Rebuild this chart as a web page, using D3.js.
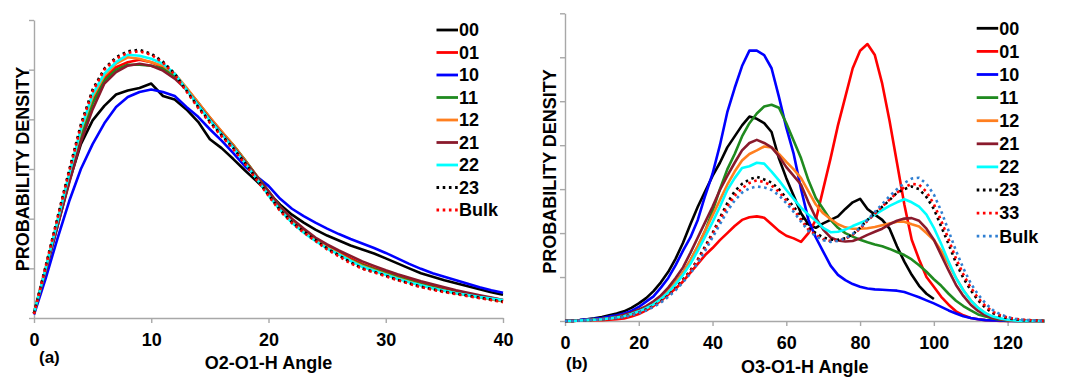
<!DOCTYPE html>
<html><head><meta charset="utf-8">
<script src="https://cdn.jsdelivr.net/npm/d3@7/dist/d3.min.js"></script>
<style>
body{margin:0;background:#fff}
svg{display:block}
text{font-family:"Liberation Sans",Arial,Helvetica,sans-serif;font-weight:bold;fill:#000}
</style>
</head><body><svg id="chart" width="1080" height="381"></svg>
<script>
// ---------- DATA ----------
const leftAngles=[0,1,2,3,4,5,6,7,8,9,10,11,12,13,14,15,16,17,18,19,20,21,22,23,24,25,26,27,28,29,30,31,32,33,34,35,36,37,38,39,40];
const leftXTicks=[0,10,20,30,40];
const leftYTicks=[0,1,2,3,4,5,6];
const leftNames=["00","01","10","11","12","21","22","23","Bulk"];
const left00=[0.1,0.95,1.85,2.75,3.5,3.98,4.27,4.5,4.58,4.63,4.72,4.47,4.4,4.2,3.95,3.6,3.42,3.2,2.97,2.75,2.52,2.28,2.08,1.92,1.78,1.66,1.56,1.46,1.38,1.3,1.2,1.1,1.0,0.9,0.83,0.76,0.7,0.64,0.58,0.52,0.47];
const left01=[0.1,1.0,1.93,2.85,3.72,4.38,4.82,5.05,5.15,5.2,5.15,5.05,4.88,4.62,4.33,4.03,3.75,3.47,3.17,2.86,2.55,2.23,1.98,1.78,1.6,1.45,1.32,1.2,1.09,1.0,0.92,0.84,0.77,0.7,0.64,0.58,0.53,0.48,0.44,0.4,0.36];
const left10=[0.07,0.8,1.6,2.35,3.0,3.5,3.92,4.25,4.45,4.55,4.6,4.55,4.47,4.25,4.05,3.8,3.57,3.32,3.05,2.85,2.66,2.4,2.2,2.05,1.92,1.8,1.69,1.59,1.5,1.41,1.31,1.2,1.09,0.99,0.9,0.83,0.76,0.69,0.62,0.56,0.51];
const left11=[0.1,0.98,1.9,2.8,3.66,4.32,4.78,5.0,5.1,5.1,5.08,5.02,4.88,4.62,4.33,4.03,3.75,3.48,3.18,2.86,2.55,2.24,1.98,1.77,1.58,1.42,1.29,1.17,1.07,0.98,0.9,0.82,0.75,0.68,0.62,0.56,0.51,0.46,0.42,0.38,0.34];
const left12=[0.1,1.0,1.95,2.88,3.78,4.45,4.88,5.12,5.25,5.22,5.15,5.08,4.92,4.64,4.34,4.04,3.76,3.48,3.17,2.85,2.52,2.2,1.96,1.76,1.58,1.42,1.29,1.16,1.05,0.96,0.88,0.8,0.73,0.66,0.6,0.55,0.5,0.46,0.42,0.38,0.35];
const left21=[0.1,0.95,1.85,2.72,3.55,4.2,4.72,4.95,5.08,5.12,5.08,4.98,4.82,4.6,4.3,4.0,3.72,3.45,3.15,2.85,2.55,2.24,2.0,1.8,1.62,1.48,1.36,1.25,1.14,1.05,0.96,0.88,0.81,0.74,0.68,0.62,0.56,0.51,0.46,0.41,0.36];
const left22=[0.1,1.0,1.95,2.9,3.8,4.5,4.92,5.15,5.3,5.28,5.22,5.12,4.92,4.6,4.28,3.98,3.7,3.43,3.12,2.8,2.47,2.17,1.92,1.72,1.55,1.4,1.28,1.15,1.03,0.95,0.87,0.79,0.72,0.66,0.6,0.55,0.5,0.46,0.42,0.39,0.36];
const left23=[0.1,1.05,2.02,2.98,3.9,4.6,5.02,5.25,5.37,5.4,5.32,5.16,4.92,4.58,4.25,3.95,3.68,3.42,3.12,2.8,2.48,2.17,1.93,1.74,1.57,1.4,1.26,1.12,1.0,0.93,0.85,0.77,0.7,0.63,0.58,0.53,0.49,0.45,0.41,0.37,0.33];
const leftBulk=[0.08,1.03,2.0,2.95,3.86,4.56,5.0,5.22,5.34,5.37,5.3,5.14,4.9,4.56,4.23,3.93,3.66,3.4,3.1,2.78,2.46,2.15,1.91,1.72,1.55,1.38,1.24,1.1,0.99,0.92,0.84,0.76,0.69,0.62,0.57,0.52,0.48,0.44,0.4,0.36,0.32];

const rightAngles=[0,2,4,6,8,10,12,14,16,18,20,22,24,26,28,30,32,34,36,38,40,42,44,46,48,50,52,54,56,58,60,62,64,66,68,70,72,74,76,78,80,82,84,86,88,90,92,94,96,98,100,102,104,106,108,110,112,114,116,118,120,122,124,126,128,130];
const rightXTicks=[0,20,40,60,80,100,120];
const rightYTicks=[0,1,2,3,4,5,6,7];
const rightNames=["00","01","10","11","12","21","22","23","33","Bulk"];
const right00=[0,0.01,0.02,0.04,0.06,0.09,0.13,0.17,0.22,0.3,0.4,0.52,0.68,0.88,1.12,1.42,1.78,2.2,2.6,2.95,3.3,3.6,3.95,4.2,4.45,4.65,4.6,4.5,4.3,3.7,3.25,2.85,2.45,2.2,2.12,2.22,2.3,2.38,2.55,2.7,2.78,2.55,2.42,2.3,2.1,1.7,1.35,1.05,0.8,0.62,0.5];
const right01=[0,0,0.01,0.01,0.02,0.02,0.03,0.04,0.06,0.1,0.16,0.24,0.34,0.46,0.6,0.74,0.9,1.1,1.3,1.5,1.66,1.84,2.0,2.16,2.3,2.36,2.38,2.35,2.2,2.05,1.94,1.88,1.8,2.0,2.3,3.0,3.7,4.45,5.1,5.75,6.15,6.3,6.05,5.4,4.55,3.6,2.65,1.85,1.4,1.0,0.78,0.55,0.37,0.22,0.13,0.07,0.04,0.02,0.01,0,0,0,0,0,0,0];
const right10=[0,0.01,0.02,0.04,0.05,0.07,0.1,0.13,0.17,0.23,0.32,0.44,0.56,0.76,0.98,1.27,1.6,1.9,2.3,2.85,3.35,4.0,4.75,5.3,5.8,6.15,6.15,6.05,5.75,5.1,4.4,3.8,3.0,2.3,1.9,1.58,1.26,1.05,0.93,0.84,0.78,0.74,0.72,0.71,0.7,0.69,0.66,0.6,0.54,0.47,0.4,0.32,0.24,0.17,0.11,0.07,0.04,0.02,0.01,0.01,0,0,0,0,0,0];
const right11=[0,0,0.01,0.02,0.03,0.04,0.06,0.08,0.12,0.17,0.23,0.31,0.41,0.54,0.7,0.88,1.1,1.38,1.7,2.05,2.5,3.0,3.45,3.8,4.2,4.5,4.72,4.88,4.92,4.85,4.5,4.1,3.7,3.2,2.8,2.55,2.3,2.12,2.0,1.92,1.85,1.79,1.74,1.7,1.64,1.57,1.5,1.4,1.27,1.12,0.95,0.8,0.62,0.46,0.34,0.24,0.15,0.1,0.06,0.03,0.01,0,0,0,0,0];
const right12=[0,0,0.01,0.02,0.03,0.04,0.06,0.08,0.12,0.17,0.23,0.31,0.41,0.54,0.7,0.88,1.1,1.38,1.7,2.05,2.4,2.75,3.1,3.4,3.65,3.8,3.88,3.97,3.95,3.8,3.62,3.45,3.25,2.95,2.65,2.45,2.32,2.2,2.13,2.1,2.1,2.11,2.14,2.18,2.22,2.26,2.26,2.2,2.15,2.0,1.84,1.6,1.3,0.98,0.7,0.47,0.3,0.17,0.09,0.05,0.02,0.01,0,0,0,0];
const right21=[0,0,0.01,0.02,0.03,0.05,0.07,0.1,0.14,0.19,0.26,0.34,0.45,0.58,0.76,0.98,1.22,1.55,1.9,2.25,2.6,2.98,3.3,3.6,3.88,4.05,4.12,4.05,3.95,3.75,3.5,3.3,3.1,2.7,2.35,2.08,1.9,1.83,1.81,1.82,1.88,1.96,2.03,2.1,2.2,2.28,2.33,2.34,2.28,2.1,1.85,1.5,1.15,0.82,0.57,0.37,0.23,0.13,0.07,0.04,0.02,0.01,0,0,0,0];
const right22=[0,0,0.01,0.02,0.03,0.04,0.06,0.08,0.11,0.16,0.22,0.29,0.38,0.5,0.65,0.84,1.05,1.3,1.6,1.92,2.25,2.6,2.98,3.25,3.48,3.52,3.6,3.58,3.4,3.2,2.98,2.78,2.58,2.42,2.28,2.12,2.02,2.03,2.08,2.16,2.23,2.3,2.42,2.52,2.62,2.7,2.77,2.7,2.6,2.42,2.12,1.75,1.35,0.98,0.7,0.47,0.3,0.18,0.1,0.06,0.03,0.01,0,0,0,0];
const right23=[0,0,0.01,0.02,0.03,0.04,0.05,0.07,0.1,0.14,0.19,0.26,0.34,0.45,0.58,0.75,0.94,1.15,1.4,1.7,2.0,2.35,2.68,2.95,3.12,3.22,3.28,3.22,3.15,3.0,2.8,2.6,2.38,2.12,2.0,1.9,1.85,1.85,1.88,1.97,2.12,2.3,2.45,2.6,2.75,2.92,3.0,3.06,3.0,2.82,2.55,2.15,1.75,1.32,0.98,0.7,0.47,0.3,0.18,0.11,0.06,0.04,0.02,0.01,0.01,0];
const right33=[0,0,0.01,0.02,0.03,0.04,0.05,0.07,0.1,0.14,0.19,0.25,0.33,0.44,0.57,0.73,0.92,1.13,1.38,1.66,1.96,2.3,2.6,2.85,3.02,3.14,3.2,3.16,3.08,2.94,2.74,2.54,2.3,2.08,1.96,1.86,1.82,1.83,1.87,1.96,2.1,2.28,2.44,2.6,2.76,2.92,3.04,3.12,3.1,2.94,2.66,2.28,1.86,1.42,1.06,0.76,0.52,0.34,0.21,0.13,0.08,0.05,0.03,0.02,0.01,0];
const rightBulk=[0,0,0.01,0.02,0.03,0.04,0.05,0.07,0.09,0.13,0.18,0.24,0.32,0.42,0.55,0.7,0.88,1.08,1.32,1.6,1.9,2.2,2.5,2.74,2.92,3.02,3.06,3.04,2.98,2.86,2.68,2.48,2.26,2.05,1.93,1.84,1.8,1.82,1.88,1.98,2.12,2.3,2.48,2.66,2.84,3.0,3.14,3.24,3.26,3.12,2.88,2.5,2.05,1.6,1.2,0.86,0.6,0.4,0.25,0.15,0.09,0.05,0.03,0.02,0.01,0];

// ---------- STYLES ----------
const styleOf={
  "00":{c:"#000000",dash:null},
  "01":{c:"#ff0000",dash:null},
  "10":{c:"#0000ff",dash:null},
  "11":{c:"#1f8a1f",dash:null},
  "12":{c:"#ff7f1f",dash:null},
  "21":{c:"#8a1a2c",dash:null},
  "22":{c:"#00ffff",dash:null},
  "23":{c:"#000000",dash:"2.6,3.6"},
  "33":{c:"#ff0000",dash:"2.6,3.6"}
};
const bulkLeft={c:"#ff0000",dash:"2.6,3.6"};
const bulkRight={c:"#2f7fd2",dash:"2.6,3.6"};

const svg=d3.select("#chart");
const FONT=18;

function drawPanel(cfg){
  const x=d3.scaleLinear().domain(cfg.xDomain).range(cfg.xRange);
  const y=d3.scaleLinear().domain(cfg.yDomain).range(cfg.yRange);
  const g=svg.append("g");
  // y axis
  const ya=g.append("g").attr("transform",`translate(${cfg.xRange[0]},0)`)
    .call(d3.axisLeft(y).tickValues(cfg.yTicks).tickSize(5).tickSizeOuter(0).tickFormat(""));
  // x axis
  const xa=g.append("g").attr("transform",`translate(0,${cfg.yRange[0]})`)
    .call(d3.axisBottom(x).tickValues(cfg.xTicks).tickSize(5).tickSizeOuter(0).tickFormat(d3.format("d")));
  [ya,xa].forEach(a=>{
    a.select(".domain").attr("stroke","#a8a8a8").attr("stroke-width",1.4);
    a.selectAll(".tick line").attr("stroke","#a8a8a8").attr("stroke-width",1.4);
  });
  xa.selectAll(".tick text").attr("y",22).attr("dy","0.35em")
    .style("font-size",FONT+"px").style("font-weight","bold").attr("fill","#000");
  // lines
  const lineFor=(vals)=>d3.line().x((d,i)=>x(cfg.angles[i])).y(d=>y(d))(vals);
  cfg.series.forEach(s=>{
    g.append("path").attr("d",lineFor(s.vals)).attr("fill","none")
      .attr("stroke",s.st.c).attr("stroke-width",2.6)
      .attr("stroke-linejoin","round")
      .attr("stroke-dasharray",s.st.dash);
  });
  // labels
  g.append("text").attr("x",(cfg.xRange[0]+cfg.xRange[1])/2).attr("y",cfg.titleY).attr("dy","0.35em")
    .attr("text-anchor","middle").style("font-size",FONT+"px").text(cfg.title);
  g.append("text").attr("x",cfg.tagX).attr("y",cfg.tagY).attr("dy","0.35em")
    .style("font-size","17px").text(cfg.tag);
  g.append("text").attr("transform",`translate(${cfg.yLabX},${cfg.yLabY}) rotate(-90)`)
    .attr("dy","0.35em").attr("text-anchor","middle").style("font-size",FONT+"px").text("PROBABILITY DENSITY");
  // legend
  cfg.series.forEach((s,i)=>{
    const yy=cfg.legY+i*cfg.legStep;
    g.append("line").attr("x1",cfg.legX).attr("x2",cfg.legX+21.5).attr("y1",yy).attr("y2",yy)
      .attr("stroke",s.st.c).attr("stroke-width",2.8).attr("stroke-dasharray",s.st.dash);
    g.append("text").attr("x",cfg.legX+22.5).attr("y",yy).attr("dy","0.35em")
      .style("font-size",FONT+"px").text(s.name);
  });
}

const leftVals={"00":left00,"01":left01,"10":left10,"11":left11,"12":left12,"21":left21,"22":left22,"23":left23,"Bulk":leftBulk};
const rightVals={"00":right00,"01":right01,"10":right10,"11":right11,"12":right12,"21":right21,"22":right22,"23":right23,"33":right33,"Bulk":rightBulk};

drawPanel({
  angles:leftAngles,xDomain:[0,40],xRange:[34,503],yDomain:[0,6],yRange:[318,20],
  xTicks:leftXTicks,yTicks:leftYTicks,
  series:leftNames.map(n=>({name:n,vals:leftVals[n],st:n==="Bulk"?bulkLeft:styleOf[n]})),
  title:"O2-O1-H Angle",titleY:363,tag:"(a)",tagX:39,tagY:357,yLabX:23,yLabY:169,
  legX:436.5,legY:30,legStep:22.5
});
drawPanel({
  angles:rightAngles,xDomain:[0,130],xRange:[565,1044.5],yDomain:[0,7],yRange:[321,13.3],
  xTicks:rightXTicks,yTicks:rightYTicks,
  series:rightNames.map(n=>({name:n,vals:rightVals[n],st:n==="Bulk"?bulkRight:styleOf[n]})),
  title:"O3-O1-H Angle",titleY:367,tag:"(b)",tagX:566,tagY:363,yLabX:549.5,yLabY:171.5,
  legX:976.7,legY:28.3,legStep:23.1
});
</script></body></html>
